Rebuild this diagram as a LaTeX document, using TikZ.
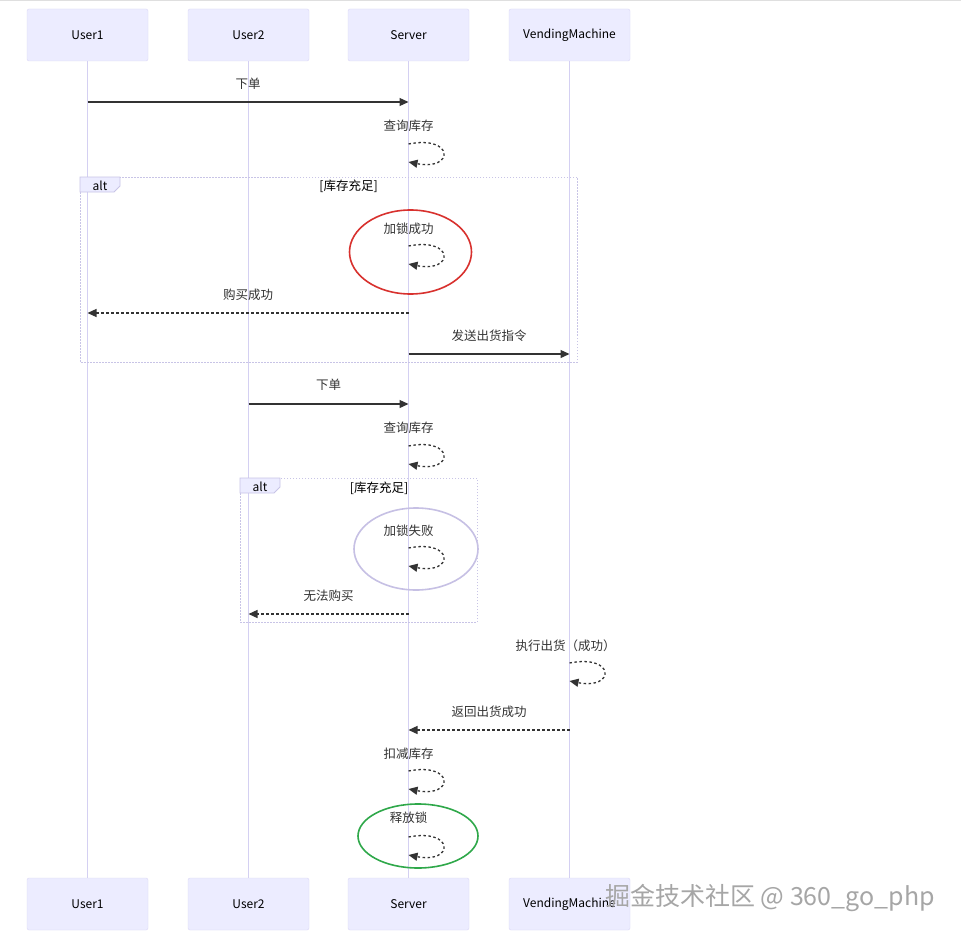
\documentclass[tikz,border=0pt]{standalone}
\usepackage{fontspec}
\setmainfont{Noto Sans CJK SC}
\usetikzlibrary{arrows.meta}
\definecolor{actfill}{HTML}{ECECFF}
\definecolor{actdraw}{HTML}{DCD8F5}
\definecolor{lifec}{HTML}{D4D0F2}
\definecolor{msgc}{HTML}{333333}
\definecolor{framec}{HTML}{C8C4E6}
\definecolor{redc}{HTML}{D8312E}
\definecolor{greenc}{HTML}{2FA84A}
\definecolor{purpc}{HTML}{C6C0E4}
\begin{document}
\begin{tikzpicture}[x=1pt,y=-1pt,
  actor/.style={draw=actdraw, fill=actfill, rounded corners=2pt, minimum width=121pt, minimum height=52pt, inner sep=0pt, font=\fontsize{12}{14}\selectfont, text=black},
  life/.style={draw=lifec, line width=1.2pt},
  msg/.style={draw=msgc, line width=1.3pt, -{Triangle[length=9pt,width=8pt]}},
  rmsg/.style={draw=msgc, line width=1.3pt, dash pattern=on 2.5pt off 2.5pt, -{Triangle[length=9pt,width=8pt]}},
  lbl/.style={font=\fontsize{12.5}{14}\selectfont, text=msgc, inner sep=0pt},
  frame/.style={draw=framec, line width=1pt, dash pattern=on 1.5pt off 1.5pt},
  tab/.style={draw=framec, fill=actfill, line width=0.8pt},
  loopc/.style={rmsg}
]
\useasboundingbox (0,0) rectangle (961,939);
\fill[white] (0,0) rectangle (961,939);
\draw[gray!25, line width=1pt] (0,0.5) -- (961,0.5);

% actors top
\node[actor] (u1t) at (87.5,35) {User1};
\node[actor] (u2t) at (248.5,35) {User2};
\node[actor] (svt) at (408.5,35) {Server};
\node[actor] (vmt) at (569.5,35) {VendingMachine};
% actors bottom
\node[actor] (u1b) at (87.5,904) {User1};
\node[actor] (u2b) at (248.5,904) {User2};
\node[actor] (svb) at (408.5,904) {Server};
\node[actor] (vmb) at (569.5,904) {VendingMachine};

% lifelines
\draw[life] (u1t.south) -- (u1b.north);
\draw[life] (u2t.south) -- (u2b.north);
\draw[life] (svt.south) -- (svb.north);
\draw[life] (vmt.south) -- (vmb.north);

% alt frame 1
\draw[frame] (80,177) rectangle (577,362);
\draw[tab] (80,177) -- (120,177) -- (120,186) -- (114,192) -- (80,192) -- cycle;
\node[font=\fontsize{12}{14}\selectfont, inner sep=0pt] (alt1) at (100,185.5) {alt};
\node[font=\fontsize{12.5}{14}\selectfont, inner sep=0pt] (cond1) at (348.5,186) {[库存充足]};

% alt frame 2
\draw[frame] (240,478) rectangle (477,622);
\draw[tab] (240,478) -- (280,478) -- (280,487) -- (274,493) -- (240,493) -- cycle;
\node[font=\fontsize{12}{14}\selectfont, inner sep=0pt] (alt2) at (260,487) {alt};
\node[font=\fontsize{12.5}{14}\selectfont, inner sep=0pt] (cond2) at (379,488) {[库存充足]};

% ellipses
\draw[redc, line width=1.6pt] (410.5,252) ellipse [x radius=61, y radius=42];
\draw[purpc, line width=1.6pt] (416,549) ellipse [x radius=62, y radius=41];
\draw[greenc, line width=1.6pt] (418,836) ellipse [x radius=60, y radius=32];

% messages
\coordinate (m1a) at (87.5,102); \coordinate (m1b) at (408.5,102);
\node[lbl] (l1) at (248,84) {下单};
\draw[msg] (m1a) -- (m1b);

\coordinate (s1a) at (408.5,144); \coordinate (s1b) at (408.5,162);
\node[lbl] (l2) at (408.5,126) {查询库存};
\draw[loopc] (s1a) .. controls +(46,-9) and +(46,9) .. (s1b);

\coordinate (s2a) at (408.5,246); \coordinate (s2b) at (408.5,264);
\node[lbl] (l3) at (408.5,229) {加锁成功};
\draw[loopc] (s2a) .. controls +(46,-9) and +(46,9) .. (s2b);

\coordinate (m3a) at (408.5,313); \coordinate (m3b) at (87.5,313);
\node[lbl] (l4) at (248,295) {购买成功};
\draw[rmsg] (m3a) -- (m3b);

\coordinate (m4a) at (408.5,354); \coordinate (m4b) at (569.5,354);
\node[lbl] (l5) at (489,336) {发送出货指令};
\draw[msg] (m4a) -- (m4b);

\coordinate (m5a) at (248.5,404); \coordinate (m5b) at (408.5,404);
\node[lbl] (l6) at (328.5,385) {下单};
\draw[msg] (m5a) -- (m5b);

\coordinate (s3a) at (408.5,446); \coordinate (s3b) at (408.5,464);
\node[lbl] (l7) at (408.5,428) {查询库存};
\draw[loopc] (s3a) .. controls +(46,-9) and +(46,9) .. (s3b);

\coordinate (s4a) at (408.5,548); \coordinate (s4b) at (408.5,566);
\node[lbl] (l8) at (408.5,531) {加锁失败};
\draw[loopc] (s4a) .. controls +(46,-9) and +(46,9) .. (s4b);

\coordinate (m6a) at (408.5,614); \coordinate (m6b) at (248.5,614);
\node[lbl] (l9) at (328.5,596) {无法购买};
\draw[rmsg] (m6a) -- (m6b);

\coordinate (s5a) at (569.5,663); \coordinate (s5b) at (569.5,681);
\node[lbl] (l10) at (565.5,646) {执行出货（成功）};
\draw[loopc] (s5a) .. controls +(46,-9) and +(46,9) .. (s5b);

\coordinate (m7a) at (569.5,730); \coordinate (m7b) at (408.5,730);
\node[lbl] (l11) at (489,712) {返回出货成功};
\draw[rmsg] (m7a) -- (m7b);

\coordinate (s6a) at (408.5,771); \coordinate (s6b) at (408.5,789);
\node[lbl] (l12) at (408.5,754) {扣减库存};
\draw[loopc] (s6a) .. controls +(46,-9) and +(46,9) .. (s6b);

\coordinate (s7a) at (408.5,837); \coordinate (s7b) at (408.5,855);
\node[lbl] (l13) at (408.5,818) {释放锁};
\draw[loopc] (s7a) .. controls +(46,-9) and +(46,9) .. (s7b);

% watermark
\node[font=\fontsize{25}{28}\selectfont, text=gray!70, inner sep=0pt] (wm) at (770,898) {掘金技术社区 @ 360\_go\_php};
\end{tikzpicture}
\end{document}
